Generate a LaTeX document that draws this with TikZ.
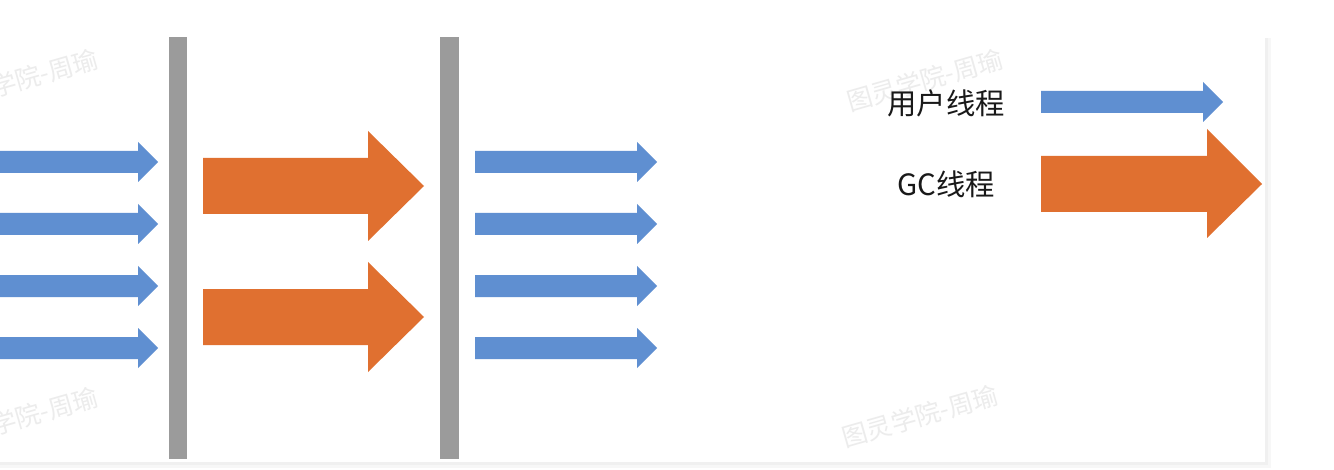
\documentclass[tikz,border=0pt]{standalone}
\usepackage{fontspec}
\newfontfamily\cjk{Noto Sans CJK SC}
\definecolor{userblue}{HTML}{5F8FD1}
\definecolor{gcorange}{HTML}{E07030}
\definecolor{wallgray}{HTML}{9B9B9B}
\definecolor{marktext}{HTML}{ECECEC}
\tikzset{
	watermark/.style={text=marktext,rotate=16,font=\cjk\fontsize{19}{21}\selectfont},
	legendtext/.style={text=black!90,font=\cjk\fontsize{22}{26}\selectfont}
}
\begin{document}
\begin{tikzpicture}[x=0.75pt,y=-0.75pt]
	\useasboundingbox (0,0) rectangle (1334,470);
	% panel with shadow
	\fill[black!3] (0,38) rectangle (1271,468);
	\fill[black!6] (0,38) rectangle (1268,465);
	\fill[white] (0,0) rectangle (1265,462);
	% watermarks
	\foreach \wx/\wy [count=\i] in {20/80,20/418,925/80,920/416}{
		\node[watermark] (mark\i) at (\wx,\wy) {图灵学院-周瑜};
	}
	% safepoint walls
	\fill[wallgray] (169,37) rectangle (187,459);
	\fill[wallgray] (440,37) rectangle (459,459);
	% user threads
	\foreach \y in {162,224,286,348}{
		\fill[userblue] (0,\y-11) -- (138,\y-11) -- (138,\y-20) -- (158,\y)
		-- (138,\y+20) -- (138,\y+11) -- (0,\y+11) -- cycle;
		\fill[userblue] (475,\y-11) -- (637,\y-11) -- (637,\y-20) -- (657,\y)
		-- (637,\y+20) -- (637,\y+11) -- (475,\y+11) -- cycle;
	}
	% gc threads
	\foreach \y in {186,317}{
		\fill[gcorange] (203,\y-28) -- (368,\y-28) -- (368,\y-55) -- (424,\y)
		-- (368,\y+55) -- (368,\y+28) -- (203,\y+28) -- cycle;
	}
	% legend
	\fill[userblue] (1041,91) -- (1203,91) -- (1203,82) -- (1223,102)
	-- (1203,122) -- (1203,113) -- (1041,113) -- cycle;
	\fill[gcorange] (1041,156) -- (1207,156) -- (1207,129) -- (1262,184)
	-- (1207,238) -- (1207,212) -- (1041,212) -- cycle;
	\node[legendtext] (user) at (946,103) {用户线程};
	\node[legendtext] (gc) at (946,184) {GC线程};
\end{tikzpicture}
\end{document}
